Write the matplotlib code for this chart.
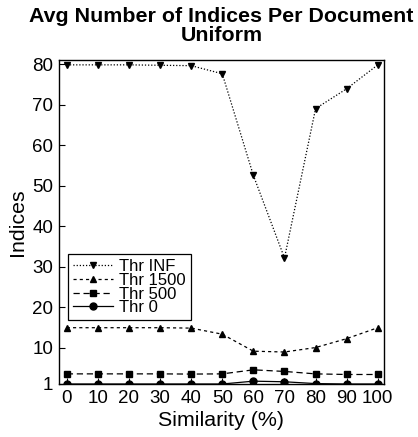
import matplotlib
matplotlib.use("Agg")
import matplotlib.pyplot as plt

plt.rcParams['font.family'] = ['Liberation Sans', 'DejaVu Sans']

similarity = [0, 10, 20, 30, 40, 50, 60, 70, 80, 90, 100]
thr_inf = [79.8, 79.8, 79.8, 79.7, 79.6, 77.6, 52.5, 32.1, 69.0, 73.9, 79.8]
thr_1500 = [14.9, 14.9, 14.9, 14.9, 14.8, 13.3, 9.1, 8.9, 10.0, 12.2, 14.9]
thr_500 = [3.5, 3.5, 3.5, 3.5, 3.45, 3.5, 4.5, 4.1, 3.5, 3.35, 3.35]
thr_0 = [1.0, 1.0, 1.0, 1.0, 1.0, 1.0, 1.7, 1.55, 1.1, 1.0, 1.0]

x_ticks = [0, 10, 20, 30, 40, 50, 60, 70, 80, 90, 100]
y_ticks = [1, 10, 20, 30, 40, 50, 60, 70, 80]

fig = plt.figure(figsize=(4.18, 4.37), dpi=100)
ax = fig.add_axes([59 / 418, 1 - 384 / 437, 325 / 418, 324 / 437])

ax.plot(similarity, thr_inf, color='black', linestyle=(0, (1, 1.5)), linewidth=0.9,
        marker='v', markersize=5, label='Thr INF')
ax.plot(similarity, thr_1500, color='black', linestyle=(0, (2.5, 2.5)), linewidth=0.9,
        marker='^', markersize=5, label='Thr 1500')
ax.plot(similarity, thr_500, color='black', linestyle=(0, (5, 3)), linewidth=0.9,
        marker='s', markersize=5, label='Thr 500')
ax.plot(similarity, thr_0, color='black', linestyle='-', linewidth=0.9,
        marker='o', markersize=5, label='Thr 0')

ax.set_xlim(-2.5, 102)
ax.set_ylim(1, 81)
ax.set_xticks(x_ticks)
ax.set_yticks(y_ticks)
ax.tick_params(direction='in', length=4, width=0.8, labelsize=13.5, pad=4,
               top=False, right=False)
for s in ax.spines.values():
    s.set_linewidth(1.0)

ax.set_xlabel('Similarity (%)', fontsize=15.4, labelpad=3)
ax.set_ylabel('Indices', fontsize=15.4, labelpad=4)
ax.set_title('Avg Number of Indices Per Document\nUniform', fontsize=15.4,
             fontweight='bold', linespacing=0.95, pad=14)

leg = ax.legend(loc='lower left', bbox_to_anchor=(0.029, 0.197), fontsize=12,
                frameon=True, fancybox=False, edgecolor='black', framealpha=1,
                handlelength=2.4, handletextpad=0.35, labelspacing=-0.08,
                borderpad=0.3, borderaxespad=0)
leg.get_frame().set_linewidth(0.9)

fig.savefig('out.png', dpi=100)
